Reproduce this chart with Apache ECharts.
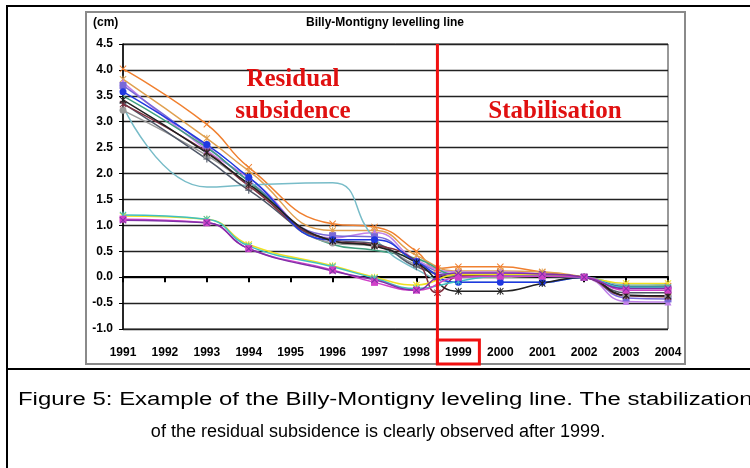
<!DOCTYPE html>
<html>
<head>
<meta charset="utf-8">
<script src="https://cdn.jsdelivr.net/npm/echarts@6/dist/echarts.min.js"></script>
<style>
  html, body { margin: 0; padding: 0; background: #fff; }
  #chart { width: 750px; height: 468px; }
</style>
</head>
<body>
<div id="chart"></div>
<script>
// survey dates (x positions), 1998.5 is the intermediate survey
const surveyYears = [1991, 1993, 1994, 1996, 1997, 1998, 1998.5, 1999, 2000, 2001, 2002, 2003, 2004];

// benchmark heights (cm)
const orangeX   = [4.02, 2.95, 2.12, 1.03, 0.97, 0.50, 0.17, 0.20, 0.20, 0.10, 0, -0.17, -0.17];
const tanStar   = [3.82, 2.68, 2.05, 0.90, 0.90, 0.42, null, 0.12, 0.12, 0.10, 0, -0.20, -0.18];
const lavTri    = [3.76, 2.45, 1.92, 0.76, 0.86, 0.33, null, 0.10, 0.10, 0.06, 0, -0.47, -0.48];
const blueDot   = [3.58, 2.56, 1.93, 0.72, 0.72, 0.30, null, -0.10, -0.10, -0.10, 0, -0.20, -0.20];
const purpleSq  = [3.70, 2.52, 1.86, 0.80, 0.78, 0.30, null, 0.05, 0.05, 0.04, 0, -0.40, -0.42];
const darkRed   = [3.34, 2.42, 1.76, 0.70, 0.62, 0.30, -0.30, 0.02, 0.05, 0.05, 0, -0.36, -0.38];
const grayDot   = [3.22, 2.35, 1.78, 0.66, 0.60, 0.24, null, 0.00, 0.00, 0.02, 0, -0.35, -0.36];
const darkPlus  = [3.36, 2.28, 1.68, 0.72, 0.65, 0.20, null, 0.03, 0.03, 0.04, 0, -0.30, -0.30];
const blackX    = [3.42, 2.40, 1.80, 0.70, 0.60, 0.28, null, -0.27, -0.27, -0.12, 0, -0.35, -0.36];
const cyanLine  = [3.30, 1.74, 1.78, 1.82, 0.75, 0.15, null, -0.10, -0.10, -0.10, 0, -0.15, -0.14];
const greenLine = [3.50, 2.50, 1.85, 0.63, 0.52, 0.36, null, 0.05, 0.05, 0.05, 0, -0.18, -0.17];
const lowCyan   = [1.20, 1.12, 0.60, 0.20, -0.02, -0.22, null, -0.08, 0.02, 0.02, 0, -0.20, -0.20];
const lowYellow = [1.18, 1.12, 0.63, 0.22, 0.00, -0.15, null, 0.05, 0.05, 0.05, 0, -0.12, -0.12];
const lowPurple = [1.10, 1.05, 0.55, 0.12, -0.05, -0.25, 0.00, 0.08, 0.08, 0.06, 0, -0.22, -0.22];
const lowMag    = [1.12, 1.05, 0.55, 0.14, -0.10, -0.25, null, 0.00, 0.02, 0.02, 0, -0.25, -0.25];

// marker shapes
const X_PATH = 'path://M0,1L1,0L5,4L9,0L10,1L6,5L10,9L9,10L5,6L1,10L0,9L4,5Z';
const STAR_PATH = 'path://M0,1L1,0L5,4L9,0L10,1L6,5L10,9L9,10L5,6L1,10L0,9L4,5ZM4.3,0H5.7V10H4.3Z';
const PLUS_PATH = 'path://M4.2,0H5.8V4.2H10V5.8H5.8V10H4.2V5.8H0V4.2H4.2Z';

const lines = [
  { name: 'p1',  data: orangeX,   color: '#f08030', symbol: X_PATH },
  { name: 'p2',  data: tanStar,   color: '#e0a050', symbol: STAR_PATH },
  { name: 'p3',  data: lavTri,    color: '#c080e8', symbol: 'triangle' },
  { name: 'p4',  data: purpleSq,  color: '#7868d8', symbol: 'rect' },
  { name: 'p5',  data: greenLine, color: '#40a080', symbol: 'none' },
  { name: 'p6',  data: cyanLine,  color: '#78bcc8', symbol: 'none' },
  { name: 'p7',  data: grayDot,   color: '#9a9a9a', symbol: 'circle' },
  { name: 'p8',  data: darkPlus,  color: '#505868', symbol: PLUS_PATH },
  { name: 'p9',  data: darkRed,   color: '#803040', symbol: STAR_PATH },
  { name: 'p10', data: blueDot,   color: '#2038e0', symbol: 'circle' },
  { name: 'p11', data: blackX,    color: '#202020', symbol: STAR_PATH },
  { name: 'p12', data: lowYellow, color: '#f0e020', symbol: STAR_PATH },
  { name: 'p13', data: lowCyan,   color: '#40c0c0', symbol: STAR_PATH },
  { name: 'p14', data: lowMag,    color: '#d040c8', symbol: 'rect' },
  { name: 'p15', data: lowPurple, color: '#8030a8', symbol: X_PATH }
];

const narrow = "'Liberation Sans Narrow', 'Liberation Sans', Arial, sans-serif";
const serif = 'bold 25px "Liberation Serif", "Times New Roman", serif';
const captionFont = '18px "Liberation Sans", Arial, sans-serif';

let myChart = echarts.init(document.getElementById('chart'));

let option = {
  backgroundColor: '#fff',
  animation: false,
  grid: {
    left: 123, right: 82, top: 44, bottom: 139,
    show: true, borderColor: '#333', borderWidth: 1
  },
  xAxis: [
    {
      type: 'value', min: 1991, max: 2004, interval: 1, position: 'bottom',
      axisLine: { show: false, onZero: false },
      axisTick: { show: false },
      splitLine: { show: false },
      axisLabel: {
        margin: 18, color: '#000', fontWeight: 'bold', fontSize: 12, fontFamily: narrow,
        formatter: v => String(v)
      }
    },
    {
      type: 'value', min: 1991, max: 2004, interval: 1, position: 'bottom',
      axisLine: { show: true, onZero: true, lineStyle: { color: '#000', width: 2 } },
      axisTick: { show: true, length: 5, lineStyle: { color: '#000', width: 2 } },
      splitLine: { show: false },
      axisLabel: { show: false }
    }
  ],
  yAxis: {
    type: 'value', min: -1, max: 4.5, interval: 0.5,
    axisLine: { show: true, onZero: false, lineStyle: { color: '#000', width: 1.5 } },
    axisTick: { show: true, length: 4, lineStyle: { color: '#000' } },
    splitLine: { show: true, lineStyle: { color: '#222', width: 1.3 } },
    axisLabel: {
      margin: 10, color: '#000', fontWeight: 'bold', fontSize: 12, fontFamily: narrow,
      formatter: v => v.toFixed(1)
    }
  },
  series: lines.map(s => ({
    name: s.name,
    type: 'line',
    xAxisIndex: 0,
    smooth: true,
    connectNulls: true,
    symbol: s.symbol,
    symbolSize: 7,
    color: s.color,
    lineStyle: { width: 1.5, color: s.color },
    itemStyle: { color: s.color },
    data: surveyYears.map((y, i) => [y, s.data[i]])
  }))
};

myChart.setOption(option);

// annotations placed from the axis scale
const xBreak = myChart.convertToPixel({ xAxisIndex: 0 }, 1998.5);
const x1999 = myChart.convertToPixel({ xAxisIndex: 0 }, 1999);
const yTop = myChart.convertToPixel({ yAxisIndex: 0 }, 4.5);

myChart.setOption({
  graphic: [
    // outer figure box
    { type: 'rect', shape: { x: 7, y: 6, width: 760, height: 480 }, style: { fill: null, stroke: '#000', lineWidth: 2 }, z: 1 },
    { type: 'line', shape: { x1: 7, y1: 369, x2: 760, y2: 369 }, style: { stroke: '#000', lineWidth: 2 } },
    // chart frame
    { type: 'rect', shape: { x: 86, y: 12, width: 599, height: 352 }, style: { fill: null, stroke: '#8a8a8a', lineWidth: 2 } },
    { type: 'text', left: 93, top: 17, style: { text: '(cm)', font: 'bold 12px ' + narrow, fill: '#000' } },
    { type: 'text', x: 385, y: 23, style: { text: 'Billy-Montigny levelling line', font: 'bold 12px ' + narrow, fill: '#000', textAlign: 'center', textVerticalAlign: 'middle' } },
    // phase labels
    { type: 'text', x: 293, y: 80, style: { text: 'Residual', font: serif, fill: '#e01010', textAlign: 'center', textVerticalAlign: 'middle' }, z: 10 },
    { type: 'text', x: 293, y: 112, style: { text: 'subsidence', font: serif, fill: '#e01010', textAlign: 'center', textVerticalAlign: 'middle' }, z: 10 },
    { type: 'text', x: 555, y: 112, style: { text: 'Stabilisation', font: serif, fill: '#e01010', textAlign: 'center', textVerticalAlign: 'middle' }, z: 10 },
    // break line and 1999 box
    { type: 'line', shape: { x1: xBreak, y1: yTop, x2: xBreak, y2: 364 }, style: { stroke: '#f01010', lineWidth: 3 }, z: 20 },
    { type: 'rect', shape: { x: x1999 - 21, y: 340, width: 42, height: 24 }, style: { fill: null, stroke: '#f01010', lineWidth: 3 }, z: 20 },
    // caption (first line runs off the right edge in the source)
    { type: 'text', x: 18, y: 400, scaleX: 1.33, style: { text: 'Figure 5: Example of the Billy-Montigny leveling line. The stabilization', font: captionFont, fill: '#000', textAlign: 'left', textVerticalAlign: 'middle' } },
    { type: 'text', x: 378, y: 432, style: { text: 'of the residual subsidence is clearly observed after 1999.', font: captionFont, fill: '#000', textAlign: 'center', textVerticalAlign: 'middle' } }
  ]
});
</script>
</body>
</html>
